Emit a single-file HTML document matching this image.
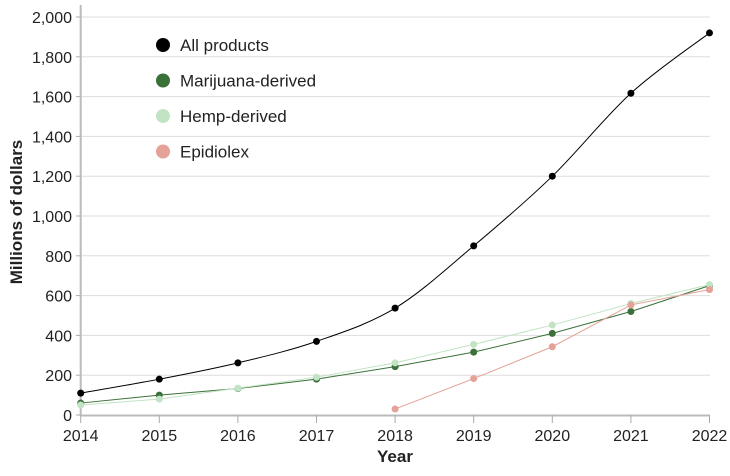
<!DOCTYPE html>
<html><head><meta charset="utf-8"><style>
body{margin:0;background:#fff;width:730px;height:471px;overflow:hidden}
svg text{font-family:"Liberation Sans",sans-serif;fill:#222}
</style></head><body>
<svg id="s" width="730" height="471" xmlns="http://www.w3.org/2000/svg"></svg>
<script>
const s=document.getElementById('s');
const X=y=>80.7+(y-2014)*78.6, Y=v=>415-v*0.199;
let h='';
for(let v=200;v<=2000;v+=200){h+=`<line x1="81" x2="710" y1="${Y(v)}" y2="${Y(v)}" stroke="#ddd"/>`;}
for(let v=0;v<=2000;v+=200){h+=`<line x1="76" x2="81" y1="${Y(v)}" y2="${Y(v)}" stroke="#aaa"/><text x="72" y="${Y(v)+6}" font-size="16" text-anchor="end">${v.toLocaleString('en-US')}</text>`;}
h+=`<line x1="80.7" x2="80.7" y1="5" y2="416" stroke="#bbb" stroke-width="2"/><line x1="80" x2="710" y1="415.5" y2="415.5" stroke="#bbb" stroke-width="2"/>`;
for(let y=2014;y<=2022;y++){h+=`<line x1="${X(y)}" x2="${X(y)}" y1="415" y2="423" stroke="#aaa"/><text x="${X(y)}" y="441" font-size="16" text-anchor="middle">${y}</text>`;}
h+=`<text x="395" y="462" font-size="17" font-weight="bold" text-anchor="middle">Year</text>`;
h+=`<text transform="translate(22,212) rotate(-90)" font-size="17" font-weight="bold" text-anchor="middle">Millions of dollars</text>`;
function path(pts){let d=`M${pts[0][0]},${pts[0][1]}`;for(let i=0;i<pts.length-1;i++){const p0=pts[Math.max(i-1,0)],p1=pts[i],p2=pts[i+1],p3=pts[Math.min(i+2,pts.length-1)];d+=` C${p1[0]+(p2[0]-p0[0])/6},${p1[1]+(p2[1]-p0[1])/6} ${p2[0]-(p3[0]-p1[0])/6},${p2[1]-(p3[1]-p1[1])/6} ${p2[0]},${p2[1]}`;}return d;}
const series=[
 [2014,[60,100,133,180,243,316,410,520,650],'#3b7139',false],
 [2014,[50,80,135,190,262,355,452,560,655],'#c2e3c4',false],
 [2018,[30,183,343,553,630],'#e4a298',false],
 [2014,[110,180,262,370,537,850,1200,1617,1920],'#000',true]];
for(const [y0,vals,c,sm] of series){const pts=vals.map((v,i)=>[X(y0+i),Y(v)]);
 h+=`<path d="${sm?path(pts):'M'+pts.map(p=>p.join(',')).join(' L')}" fill="none" stroke="${c}" stroke-width="1"/>`;
 pts.forEach(p=>h+=`<circle cx="${p[0]}" cy="${p[1]}" r="3.5" fill="${c}"/>`);}
const lg=[['All products','#000'],['Marijuana-derived','#3b7139'],['Hemp-derived','#c2e3c4'],['Epidiolex','#e4a298']];
lg.forEach((l,i)=>{const yy=45+i*35.5;h+=`<circle cx="163" cy="${yy}" r="7" fill="${l[1]}"/><text x="180" y="${yy+6}" font-size="17">${l[0]}</text>`;});
s.innerHTML=h;
</script>
</body></html>
